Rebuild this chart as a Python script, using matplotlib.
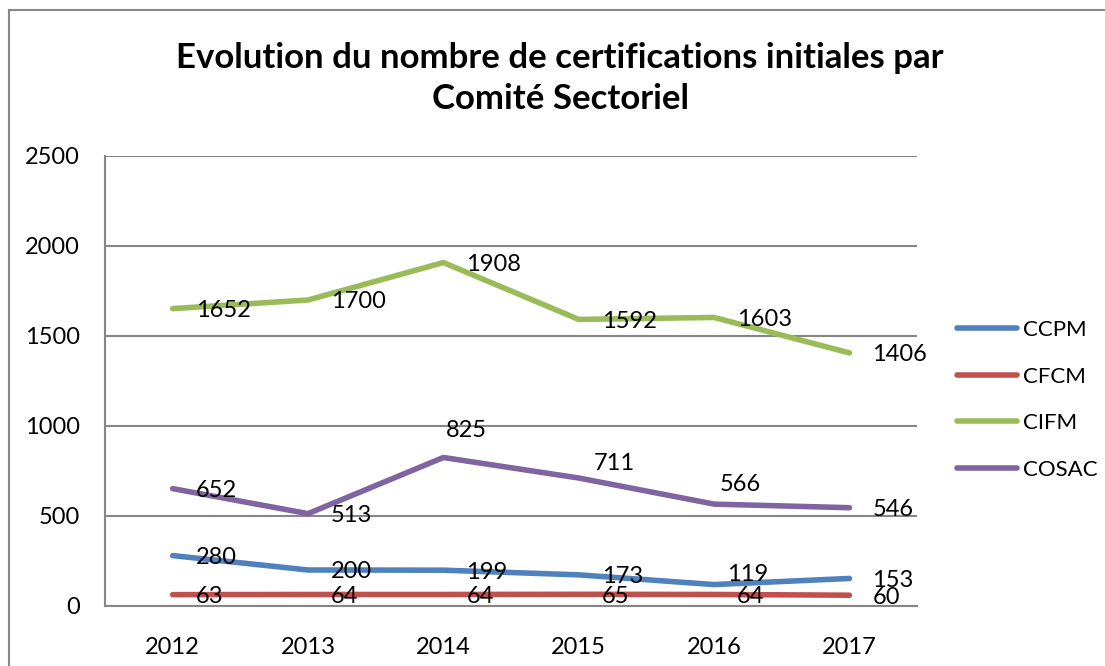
import matplotlib.pyplot as plt
from matplotlib.patches import Rectangle

plt.rcParams['font.family'] = ['Lato', 'DejaVu Sans']

# Données
annees = ['2012', '2013', '2014', '2015', '2016', '2017']
ccpm = [280, 200, 199, 173, 119, 153]
cfcm = [63, 64, 64, 65, 64, 60]
cifm = [1652, 1700, 1908, 1592, 1603, 1406]
cosac = [652, 513, 825, 711, 566, 546]

series = [('CCPM', ccpm, '#4F81BD'),
          ('CFCM', cfcm, '#C0504D'),
          ('CIFM', cifm, '#9BBB59'),
          ('COSAC', cosac, '#8064A2')]

# étiquettes déplacées à la main (décalage en pixels)
decalages = {('COSAC', 2): (2, 27), ('COSAC', 3): (15, 15),
             ('COSAC', 4): (6, 20), ('CCPM', 4): (13, 10)}

fig = plt.figure(figsize=(11.05, 6.66), dpi=100)
ax = fig.add_axes([0.095, 0.0901, 0.735, 0.6757])

# cadre du graphique (coupé à droite et en bas)
fig.patches.append(Rectangle((9 / 1105, -0.05), 1.2, 1 - 10 / 666 + 0.05,
                             transform=fig.transFigure, fill=False,
                             edgecolor='#888888', linewidth=1.5))

x = range(len(annees))
for nom, vals, coul in series:
    ax.plot(x, vals, color=coul, linewidth=4, solid_capstyle='round',
            solid_joinstyle='round', label=nom)
    for i, v in enumerate(vals):
        dx, dy = decalages.get((nom, i), (23, -2))
        ax.annotate(str(v), (i, v), xytext=(dx, dy), textcoords='offset pixels',
                    ha='left', va='center', fontsize=17, color='black')

ax.set_xlim(-0.5, len(annees) - 0.5)
ax.set_ylim(0, 2500)
ax.set_yticks(range(0, 2501, 500))
ax.set_xticks(list(x))
ax.set_xticklabels(annees)
ax.tick_params(axis='both', length=0, labelsize=17)
ax.tick_params(axis='y', pad=18)
ax.tick_params(axis='x', pad=22)

ax.grid(axis='y', color='#868686', linewidth=1.5)
ax.set_axisbelow(True)
for s in ['top', 'right']:
    ax.spines[s].set_visible(False)
for s in ['left', 'bottom']:
    ax.spines[s].set_color('#868686')
    ax.spines[s].set_linewidth(1.5)

fig.text(0.507, 0.882, 'Evolution du nombre de certifications initiales par\nComité Sectoriel',
         ha='center', va='center', fontsize=25, fontweight='bold', linespacing=1.32)

leg = ax.legend(loc='center left', bbox_to_anchor=(1.025, 0.458), frameon=False,
                fontsize=16, handlelength=2.7, handletextpad=0.25, labelspacing=1.2)

fig.savefig('out.png', dpi=100)
